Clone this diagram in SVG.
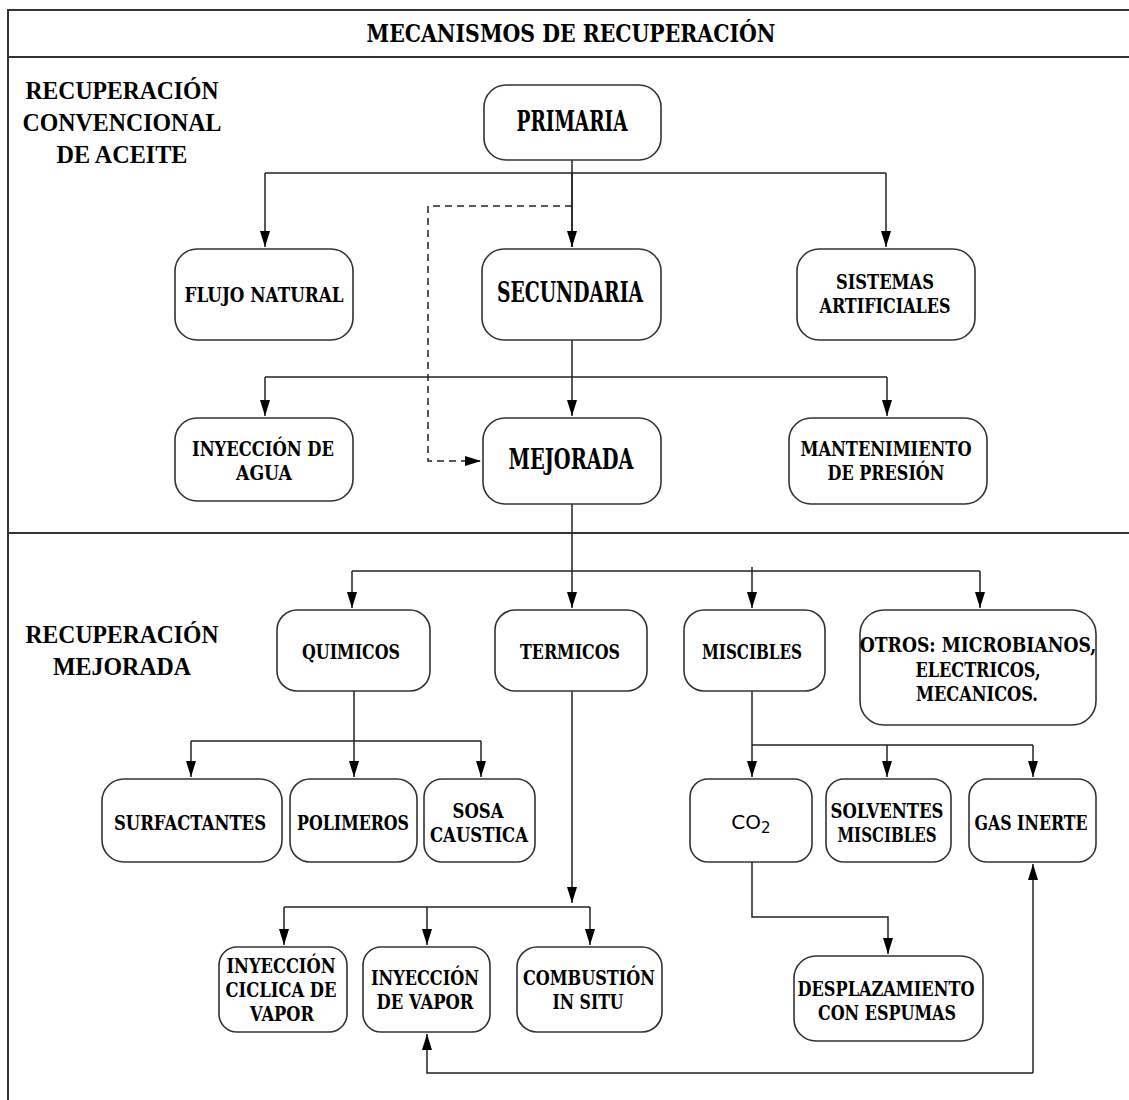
<svg xmlns="http://www.w3.org/2000/svg" width="1129" height="1100" viewBox="0 0 1129 1100">
<defs>
<style>
.n{fill:#fff;stroke:#333;stroke-width:1.6}
text{dominant-baseline:central;text-anchor:middle;fill:#000}
.t{font-family:"DejaVu Serif",serif;font-weight:bold;font-size:21px}
.b{font-size:27px}
.s{font-family:"Liberation Serif","DejaVu Serif",serif;font-weight:bold;font-size:26px}
.c{stroke:#222;stroke-width:1.5;fill:none}
.d{stroke:#222;stroke-width:1.5;fill:none;stroke-dasharray:7,5}
.f{stroke:#333;stroke-width:2;fill:none}
</style>
<marker id="ah" markerWidth="16" markerHeight="10" refX="16" refY="5" orient="auto" markerUnits="userSpaceOnUse"><path d="M0,0 L16,5 L0,10 z" fill="#000"/></marker>
</defs>
<rect width="1129" height="1100" fill="#fff"/>
<g id="frame">
<path class="f" d="M1129,10 H8 V1100"/>
<path class="f" d="M8,57 H1129"/>
<path class="f" d="M8,533 H1129"/>
</g>
<g id="labels">
<text class="t" x="571" y="33" style="font-size:24px" textLength="409" lengthAdjust="spacingAndGlyphs">MECANISMOS DE RECUPERACIÓN</text>
<text class="s" x="122" y="90" textLength="193" lengthAdjust="spacingAndGlyphs">RECUPERACIÓN</text>
<text class="s" x="122" y="122" textLength="199" lengthAdjust="spacingAndGlyphs">CONVENCIONAL</text>
<text class="s" x="122" y="154" textLength="131" lengthAdjust="spacingAndGlyphs">DE ACEITE</text>
<text class="s" x="122" y="634" textLength="193" lengthAdjust="spacingAndGlyphs">RECUPERACIÓN</text>
<text class="s" x="122" y="666" textLength="138" lengthAdjust="spacingAndGlyphs">MEJORADA</text>
</g>
<g id="connectors">
<path class="c" d="M572,160 V247"/>
<path class="c" d="M265,173 H886"/>
<path class="c" d="M265,173 V247" marker-end="url(#ah)"/>
<path class="c" d="M572,173 V247" marker-end="url(#ah)"/>
<path class="c" d="M886,173 V247" marker-end="url(#ah)"/>
<path class="d" d="M572,206 H428 V461 H481" marker-end="url(#ah)"/>
<path class="c" d="M572,340 V416" marker-end="url(#ah)"/>
<path class="c" d="M265,377 H887"/>
<path class="c" d="M265,377 V416" marker-end="url(#ah)"/>
<path class="c" d="M887,377 V416" marker-end="url(#ah)"/>
<path class="c" d="M572,504 V608" marker-end="url(#ah)"/>
<path class="c" d="M352,571 H980"/>
<path class="c" d="M352,571 V608" marker-end="url(#ah)"/>
<path class="c" d="M752,567 V608" marker-end="url(#ah)"/>
<path class="c" d="M980,571 V608" marker-end="url(#ah)"/>
<path class="c" d="M354,691 V777" marker-end="url(#ah)"/>
<path class="c" d="M191,741 H481"/>
<path class="c" d="M191,741 V777" marker-end="url(#ah)"/>
<path class="c" d="M481,741 V777" marker-end="url(#ah)"/>
<path class="c" d="M752,691 V777" marker-end="url(#ah)"/>
<path class="c" d="M752,745 H1033"/>
<path class="c" d="M887,745 V777" marker-end="url(#ah)"/>
<path class="c" d="M1033,745 V777" marker-end="url(#ah)"/>
<path class="c" d="M572,691 V903" marker-end="url(#ah)"/>
<path class="c" d="M284,907 H590"/>
<path class="c" d="M284,907 V945" marker-end="url(#ah)"/>
<path class="c" d="M427,907 V945" marker-end="url(#ah)"/>
<path class="c" d="M590,907 V945" marker-end="url(#ah)"/>
<path class="c" d="M752,862 V917 H888 V954" marker-end="url(#ah)"/>
<path class="c" d="M1033,1073 H427 V1034" marker-end="url(#ah)"/>
<path class="c" d="M1033,1073 V864" marker-end="url(#ah)"/>
</g>
<g id="primaria"><rect class="n" x="484" y="85" width="177" height="75" rx="22"/><text class="t b" x="572" y="121" textLength="111" lengthAdjust="spacingAndGlyphs">PRIMARIA</text></g>
<g id="flujo"><rect class="n" x="175" y="249" width="178" height="91" rx="22"/><text class="t" x="264" y="294" textLength="159" lengthAdjust="spacingAndGlyphs">FLUJO NATURAL</text></g>
<g id="secundaria"><rect class="n" x="482" y="249" width="179" height="91" rx="22"/><text class="t b" x="570" y="292" textLength="146" lengthAdjust="spacingAndGlyphs">SECUNDARIA</text></g>
<g id="sistemas"><rect class="n" x="797" y="249" width="178" height="91" rx="22"/><text class="t" x="885" y="281" textLength="98" lengthAdjust="spacingAndGlyphs">SISTEMAS</text><text class="t" x="885" y="305" textLength="131" lengthAdjust="spacingAndGlyphs">ARTIFICIALES</text></g>
<g id="agua"><rect class="n" x="175" y="418" width="178" height="83" rx="22"/><text class="t" x="263" y="448" textLength="142" lengthAdjust="spacingAndGlyphs">INYECCIÓN DE</text><text class="t" x="264" y="472" textLength="56" lengthAdjust="spacingAndGlyphs">AGUA</text></g>
<g id="mejorada"><rect class="n" x="483" y="418" width="178" height="86" rx="22"/><text class="t b" x="571" y="459" textLength="125" lengthAdjust="spacingAndGlyphs">MEJORADA</text></g>
<g id="mantenimiento"><rect class="n" x="789" y="418" width="198" height="86" rx="22"/><text class="t" x="886" y="448" textLength="171" lengthAdjust="spacingAndGlyphs">MANTENIMIENTO</text><text class="t" x="886" y="472" textLength="117" lengthAdjust="spacingAndGlyphs">DE PRESIÓN</text></g>
<g id="quimicos"><rect class="n" x="277" y="610" width="153" height="81" rx="20"/><text class="t" x="351" y="651" textLength="98" lengthAdjust="spacingAndGlyphs">QUIMICOS</text></g>
<g id="termicos"><rect class="n" x="495" y="610" width="152" height="81" rx="20"/><text class="t" x="570" y="651" textLength="100" lengthAdjust="spacingAndGlyphs">TERMICOS</text></g>
<g id="miscibles"><rect class="n" x="684" y="610" width="141" height="81" rx="20"/><text class="t" x="752" y="651" textLength="100" lengthAdjust="spacingAndGlyphs">MISCIBLES</text></g>
<g id="otros"><rect class="n" x="860" y="610" width="236" height="115" rx="24"/><text class="t" transform="translate(978,645) scale(0.82,1)" x="0" y="0">OTROS: MICROBIANOS,</text><text class="t" x="978" y="669" textLength="125" lengthAdjust="spacingAndGlyphs">ELECTRICOS,</text><text class="t" x="977" y="693" textLength="122" lengthAdjust="spacingAndGlyphs">MECANICOS.</text></g>
<g id="surfactantes"><rect class="n" x="102" y="779" width="180" height="83" rx="22"/><text class="t" x="190" y="822" textLength="152" lengthAdjust="spacingAndGlyphs">SURFACTANTES</text></g>
<g id="polimeros"><rect class="n" x="290" y="779" width="127" height="83" rx="20"/><text class="t" x="353" y="822" textLength="112" lengthAdjust="spacingAndGlyphs">POLIMEROS</text></g>
<g id="sosa"><rect class="n" x="424" y="779" width="111" height="83" rx="18"/><text class="t" x="478" y="810" textLength="51" lengthAdjust="spacingAndGlyphs">SOSA</text><text class="t" x="479" y="834" textLength="98" lengthAdjust="spacingAndGlyphs">CAUSTICA</text></g>
<g id="co2"><rect class="n" x="690" y="779" width="122" height="83" rx="18"/><text x="751" y="822" style="font-family:'DejaVu Sans',sans-serif;font-size:20px">CO<tspan dy="6" style="font-size:15px">2</tspan></text></g>
<g id="solventes"><rect class="n" x="826" y="779" width="125" height="83" rx="18"/><text class="t" x="887" y="810" textLength="113" lengthAdjust="spacingAndGlyphs">SOLVENTES</text><text class="t" x="887" y="834" textLength="99" lengthAdjust="spacingAndGlyphs">MISCIBLES</text></g>
<g id="gasinerte"><rect class="n" x="969" y="779" width="127" height="83" rx="18"/><text class="t" x="1031" y="822" textLength="113" lengthAdjust="spacingAndGlyphs">GAS INERTE</text></g>
<g id="ciclica"><rect class="n" x="219" y="947" width="128" height="85" rx="18"/><text class="t" x="281" y="965" textLength="109" lengthAdjust="spacingAndGlyphs">INYECCIÓN</text><text class="t" x="281" y="989" textLength="111" lengthAdjust="spacingAndGlyphs">CICLICA DE</text><text class="t" x="282" y="1013" textLength="64" lengthAdjust="spacingAndGlyphs">VAPOR</text></g>
<g id="vapor"><rect class="n" x="363" y="947" width="127" height="85" rx="18"/><text class="t" x="425" y="977" textLength="108" lengthAdjust="spacingAndGlyphs">INYECCIÓN</text><text class="t" x="425" y="1001" textLength="97" lengthAdjust="spacingAndGlyphs">DE VAPOR</text></g>
<g id="combustion"><rect class="n" x="517" y="947" width="145" height="85" rx="20"/><text class="t" x="589" y="977" textLength="132" lengthAdjust="spacingAndGlyphs">COMBUSTIÓN</text><text class="t" x="588" y="1001" textLength="71" lengthAdjust="spacingAndGlyphs">IN SITU</text></g>
<g id="desplazamiento"><rect class="n" x="794" y="956" width="189" height="85" rx="22"/><text class="t" x="886" y="988" textLength="177" lengthAdjust="spacingAndGlyphs">DESPLAZAMIENTO</text><text class="t" x="887" y="1012" textLength="138" lengthAdjust="spacingAndGlyphs">CON ESPUMAS</text></g>
</svg>
